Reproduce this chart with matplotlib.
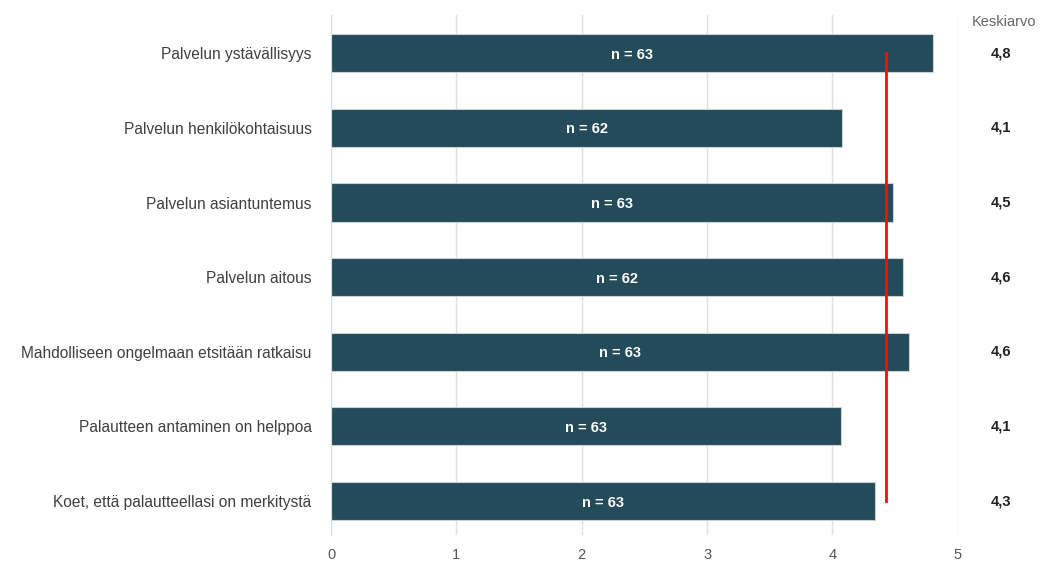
import matplotlib.pyplot as plt

plt.rcParams['font.family'] = ['Liberation Sans', 'DejaVu Sans']

kysymykset = [
    'Palvelun ystävällisyys',
    'Palvelun henkilökohtaisuus',
    'Palvelun asiantuntemus',
    'Palvelun aitous',
    'Mahdolliseen ongelmaan etsitään ratkaisu',
    'Palautteen antaminen on helppoa',
    'Koet, että palautteellasi on merkitystä',
]
keskiarvot = [4.80, 4.08, 4.48, 4.56, 4.61, 4.07, 4.34]
vastaajat = [63, 62, 63, 62, 63, 63, 63]
kokonaiskeskiarvo = 4.43

pylvas_vari = '#244b59'
harmaa = '#555555'

fig = plt.figure(figsize=(10.41, 5.62), dpi=100)
ax = fig.add_axes([0.318, 0.048, 0.602, 0.925])

y = list(range(len(kysymykset)))
ax.barh(y, keskiarvot, height=0.51, color=pylvas_vari, edgecolor='#c8d2d6',
        linewidth=0.8, zorder=2)

ytr = ax.get_yaxis_transform()
for i, (v, n) in enumerate(zip(keskiarvot, vastaajat)):
    ax.text(v / 2, i + 0.02, f'n = {n}', ha='center', va='center', color='white',
            fontsize=10.5, fontweight='bold', zorder=4)
    ax.text(1.053, i, f'{v:.1f}'.replace('.', ','), transform=ytr,
            ha='left', va='center', fontsize=10.5, fontweight='bold',
            color='#222222', clip_on=False)
ax.text(1.022, -0.42, 'Keskiarvo', transform=ytr,
        ha='left', va='center', fontsize=10.5, color='#666666', clip_on=False)

# keskiarvoviiva
ax.plot([kokonaiskeskiarvo, kokonaiskeskiarvo], [0, 6], color='#ff0a0a',
        linewidth=2, zorder=3)

ax.set_xlim(0, 5)
ax.set_ylim(6.455, -0.51)
ax.set_xticks([0, 1, 2, 3, 4, 5])
ax.set_xticklabels(['0', '1', '2', '3', '4', '5'])
ax.set_yticks(y)
ax.set_yticklabels(kysymykset)
ax.tick_params(axis='x', length=0, pad=9, labelsize=10.5, labelcolor=harmaa)
ax.tick_params(axis='y', length=0, pad=14, labelsize=11.2, labelcolor='#404040')

ax.grid(axis='x', color='#e0e0e0', linewidth=1, zorder=0)
ax.set_axisbelow(True)
for s in ['top', 'right', 'bottom']:
    ax.spines[s].set_visible(False)
ax.spines['left'].set_color('#d5dbe6')

fig.savefig('out.png', dpi=100)
